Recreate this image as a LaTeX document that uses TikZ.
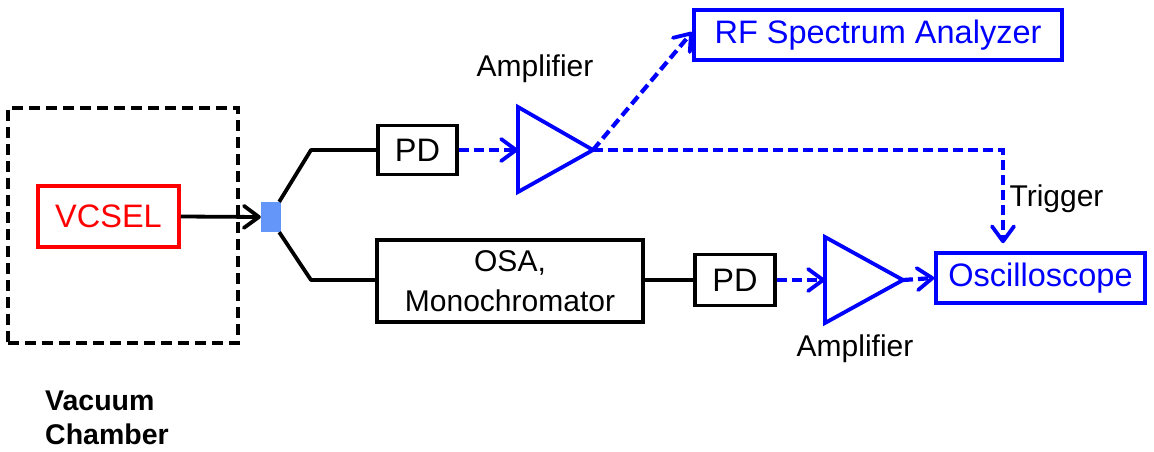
\documentclass[tikz,border=0pt]{standalone}
\usepackage{fontspec}
\setmainfont{Liberation Sans}
\usetikzlibrary{arrows.meta}
\definecolor{splitblue}{RGB}{100,150,250}
\tikzset{
  boxtext/.style={font=\fontsize{32.5}{38}\selectfont},
  lbl/.style={font=\fontsize{30}{36}\selectfont},
  blkbox/.style={draw=black, line width=3.5pt, inner sep=0pt, boxtext},
  instrbox/.style={draw=blue, text=blue, line width=3.5pt, inner sep=0pt, boxtext},
  fiber/.style={line width=3.8pt, line join=round},
  barb/.style={-{Straight Barb[length=15pt,width=22pt,line width=3.8pt,line cap=round,line join=round]}},
  sig/.style={draw=blue, line width=4.2pt, dash pattern=on 10pt off 5pt, barb},
  amp/.style={draw=blue, line width=3.8pt, line join=miter}
}
\begin{document}
\begin{tikzpicture}[x=1pt,y=-1pt]
\useasboundingbox (0,0) rectangle (1154,452);

% vacuum chamber and the laser inside it
\node[draw=black, line width=3.8pt, dash pattern=on 11pt off 6pt,
      minimum width=230pt, minimum height=235pt] (chamber) at (123,225.5) {};
\node[draw=red, text=red, line width=3.5pt, inner sep=0pt, boxtext,
      minimum width=141pt, minimum height=61pt] (vcsel) at (108.5,216.5) {VCSEL};
\node[font=\fontsize{28.5}{34}\selectfont\bfseries, align=left, anchor=north west,
      inner sep=0pt] (chlabel) at (45,391) {Vacuum\\Chamber};

% fibre splitter
\node[fill=splitblue, minimum width=20pt, minimum height=30pt, inner sep=0pt] (split) at (271,217) {};
\draw[fiber, barb] (vcsel.east) -- (split.west);
\coordinate (b1) at (311,150);
\coordinate (b2) at (311,280);

% optical components
\node[blkbox, minimum width=79pt, minimum height=49pt] (pd1) at (417.5,150) {PD};
\node[blkbox, minimum width=266pt, minimum height=82pt, align=center,
      font=\fontsize{30}{40}\selectfont] (osa) at (510,281) {OSA,\\Monochromator};
\node[blkbox, minimum width=80pt, minimum height=51pt] (pd2) at (735,280) {PD};

\draw[fiber] ([xshift=-2pt]split.north east) -- (b1) -- (b1 -| pd1.west);
\draw[fiber] ([xshift=-2pt]split.south east) -- (b2) -- (b2 -| osa.west);
\draw[fiber] (osa.east |- pd2.west) -- (pd2.west);

% amplifiers
\coordinate (a1in) at (518,150);
\coordinate (a1out) at (593,150);
\draw[amp] (518,107) -- (a1out) -- (518,192) -- cycle;
\node[lbl, anchor=base] (a1lbl) at (535,76.5) {Amplifier};

\coordinate (a2in) at (825,280);
\coordinate (a2out) at (903,280);
\draw[amp] (825,237) -- (a2out) -- (825,323) -- cycle;
\node[lbl, anchor=base] (a2lbl) at (855,356) {Amplifier};

% instruments
\node[instrbox, minimum width=368pt, minimum height=50pt] (rf) at (878,35) {RF Spectrum Analyzer};
\node[instrbox, minimum width=209pt, minimum height=50pt] (osc) at (1040.5,278) {Oscilloscope};

% electrical signal paths
\draw[sig] (pd1.east) -- (a1in);
\draw[sig] (a1out) -- ([yshift=3pt]rf.west);
\coordinate (tbend) at (1003,150);
\draw[sig, shorten >=8pt] (a1out) -- (tbend) -- (tbend |- osc.north);
\node[lbl, anchor=base] (trig) at (1056.5,206) {Trigger};

\draw[sig] (pd2.east) -- (a2in);
\draw[sig] (a2out) -- (osc.west);
\end{tikzpicture}
\end{document}
